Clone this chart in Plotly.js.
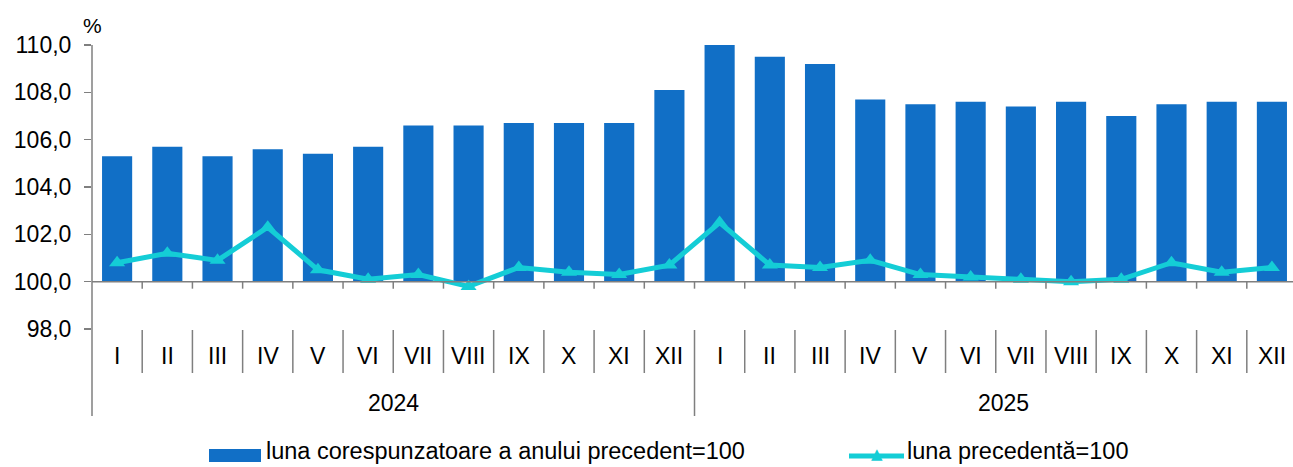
<!DOCTYPE html>
<html>
<head>
<meta charset="utf-8">
<script src="https://cdn.plot.ly/plotly-3.0.1.min.js"></script>
<style>html,body{margin:0;padding:0;background:#fff;}#chart{width:1293px;height:467px;}</style>
</head>
<body>
<div id="chart"></div>
<script>
// ---- data ----
const months = ["I","II","III","IV","V","VI","VII","VIII","IX","X","XI","XII",
                "I","II","III","IV","V","VI","VII","VIII","IX","X","XI","XII"];
const years = ["2024","2025"];
const yoyValues = [105.3,105.7,105.3,105.6,105.4,105.7,106.6,106.6,106.7,106.7,106.7,108.1,
                   110.0,109.5,109.2,107.7,107.5,107.6,107.4,107.6,107.0,107.5,107.6,107.6];
const momValues = [100.8,101.2,100.9,102.3,100.5,100.1,100.3,99.8,100.6,100.4,100.3,100.7,
                   102.5,100.7,100.6,100.9,100.3,100.2,100.1,100.0,100.1,100.8,100.4,100.6];
const seriesNames = ["luna corespunzatoare a anului precedent=100","luna precedentă=100"];
const yTicks = [98,100,102,104,106,108,110];
const baseValue = 100;

// ---- layout helpers ----
const W = 1293, H = 467;
const mL = 92, mR = 0, mT = 45, mB = 138;
const plotW = W - mL - mR, plotH = H - mT - mB;
const px = x => (x - mL) / plotW;          // pixel x -> paper x
const py = y => (H - mB - y) / plotH;      // pixel y -> paper y

const barColor = "#116FC6";
const lineColor = "#14CDD6";
const axisColor = "#7F7F7F";
const font = "Liberation Sans, Arial, sans-serif";
const fs = 23;

const xIdx = months.map((_, i) => i);

const traces = [
  {
    type: "bar",
    x: xIdx,
    y: yoyValues.map(v => v - baseValue),
    base: baseValue,
    width: 0.6,
    marker: {color: barColor},
    name: seriesNames[0],
    showlegend: false
  },
  {
    type: "scatter",
    mode: "lines+markers",
    x: xIdx,
    y: momValues,
    line: {color: lineColor, width: 5},
    marker: {symbol: "triangle-up", size: 14, color: lineColor},
    name: seriesNames[1],
    showlegend: false
  }
];

const shapes = [];
const annotations = [];

// y axis line extended below the plot
shapes.push({type: "line", xref: "paper", yref: "paper", x0: 0, x1: 0,
  y0: 1, y1: py(416), line: {color: axisColor, width: 1.5}});
// x axis line at base value
shapes.push({type: "line", xref: "paper", yref: "y", x0: 0, x1: 1,
  y0: baseValue, y1: baseValue, line: {color: axisColor, width: 1.5}});

for (let i = 0; i < months.length - 1; i++) {
  const b = i + 0.5;
  // tick marks under the 100 line
  shapes.push({type: "line", xref: "x", yref: "y", ysizemode: "pixel", yanchor: baseValue,
    x0: b, x1: b, y0: 0, y1: -7, line: {color: axisColor, width: 1.5}});
  // category separators
  const isYear = (i === 11);
  shapes.push({type: "line", xref: "x", yref: "paper", x0: b, x1: b,
    y0: py(330), y1: py(isYear ? 416 : 373), line: {color: axisColor, width: 1.5}});
}

months.forEach((m, i) => {
  annotations.push({xref: "x", yref: "paper", x: i, y: py(356), text: m, showarrow: false,
    xanchor: "center", yanchor: "middle", font: {family: font, size: fs, color: "#000"}});
});
years.forEach((yr, k) => {
  annotations.push({xref: "x", yref: "paper", x: k * 12 + 5.5 + (k ? 0.15 : 0), y: py(403), text: yr,
    showarrow: false, xanchor: "center", yanchor: "middle",
    font: {family: font, size: fs, color: "#000"}});
});
// unit label
annotations.push({xref: "paper", yref: "paper", x: px(92), y: py(25), text: "%", showarrow: false,
  xanchor: "center", yanchor: "middle", font: {family: font, size: 21, color: "#000"}});

// custom legend
const legY = 450.5;
const legFs = 23.5;
shapes.push({type: "rect", xref: "paper", yref: "paper", x0: px(209), x1: px(261),
  y0: py(462), y1: py(449), fillcolor: barColor, line: {width: 0}});
annotations.push({xref: "paper", yref: "paper", x: px(265), y: py(legY), text: seriesNames[0],
  showarrow: false, xanchor: "left", yanchor: "middle", borderpad: 0,
  font: {family: font, size: legFs, color: "#000"}});
shapes.push({type: "line", xref: "paper", yref: "paper", x0: px(849), x1: px(904),
  y0: py(456), y1: py(456), line: {color: lineColor, width: 5}});
annotations.push({xref: "paper", yref: "paper", x: px(877), y: py(454), text: "▲",
  showarrow: false, xanchor: "center", yanchor: "middle", borderpad: 0,
  font: {family: "DejaVu Sans", size: 15, color: lineColor}});
annotations.push({xref: "paper", yref: "paper", x: px(906), y: py(legY), text: seriesNames[1],
  showarrow: false, xanchor: "left", yanchor: "middle", borderpad: 0,
  font: {family: font, size: legFs, color: "#000"}});

const layout = {
  width: W, height: H,
  margin: {l: mL, r: mR, t: mT, b: mB, pad: 0},
  paper_bgcolor: "#fff", plot_bgcolor: "#fff",
  separators: ",.",
  showlegend: false,
  bargap: 0.4,
  xaxis: {
    range: [-0.5, 23.42], showgrid: false, zeroline: false, showline: false,
    showticklabels: false, ticks: "", fixedrange: true
  },
  yaxis: {
    range: [98, 110], tickvals: yTicks, tickformat: ".1f",
    showgrid: false, zeroline: false, showline: false,
    ticks: "outside", ticklen: 7, tickwidth: 1.5, tickcolor: axisColor,
    ticklabelstandoff: 8,
    tickfont: {family: font, size: fs, color: "#000"}, fixedrange: true
  },
  shapes: shapes,
  annotations: annotations
};

Plotly.newPlot("chart", traces, layout, {displayModeBar: false, staticPlot: true});
</script>
</body>
</html>
